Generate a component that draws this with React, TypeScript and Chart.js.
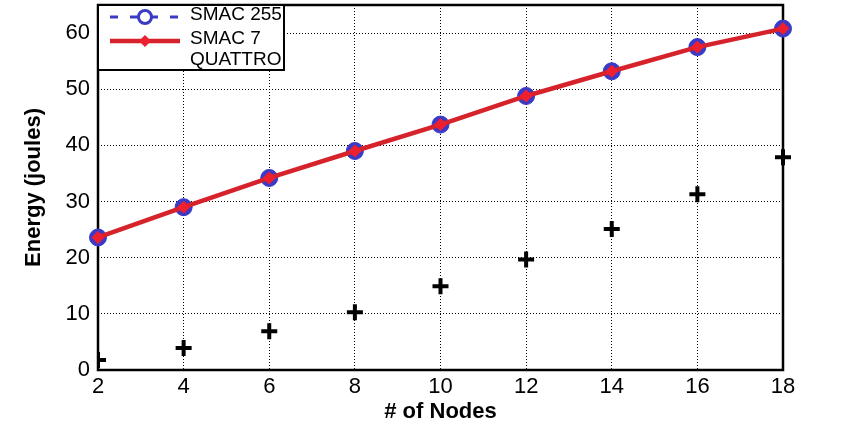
import React, { useEffect, useRef } from 'react';
import { Chart, registerables } from 'chart.js';

Chart.register(...registerables);

// ---- data ----
const nodes = [2, 4, 6, 8, 10, 12, 14, 16, 18];
const smac255 = [23.6, 29.0, 34.2, 39.0, 43.7, 48.8, 53.2, 57.5, 60.8];
const smac7Quattro = [23.6, 29.0, 34.2, 39.0, 43.7, 48.8, 53.2, 57.5, 60.8];
const thirdSeries = [1.8, 3.9, 6.9, 10.3, 14.9, 19.7, 25.1, 31.3, 37.9];
const seriesLabels = ['SMAC 255', 'SMAC 7 QUATTRO', 'Other'];
const xTitle = '# of Nodes';
const yTitle = 'Energy (joules)';

const FONT = "'Liberation Sans', Arial, Helvetica, sans-serif";
const RED = '#d6232b';
const BLUE = '#3a3ac6';

const framePlugin = {
  id: 'frame',
  beforeDatasetsDraw(chart: any) {
    const { ctx, chartArea } = chart;
    ctx.save();
    ctx.strokeStyle = '#000';
    ctx.lineWidth = 2.5;
    ctx.setLineDash([]);
    ctx.strokeRect(chartArea.left, chartArea.top, chartArea.right - chartArea.left, chartArea.bottom - chartArea.top);
    ctx.restore();
  },
};

function wrap(ctx: CanvasRenderingContext2D, text: string, maxW: number) {
  const words = text.split(' ');
  const lines: string[] = [];
  let cur = '';
  for (const w of words) {
    const test = cur ? cur + ' ' + w : w;
    if (cur && ctx.measureText(test).width > maxW) {
      lines.push(cur);
      cur = w;
    } else cur = test;
  }
  if (cur) lines.push(cur);
  return lines;
}

const legendPlugin = {
  id: 'boxLegend',
  afterDraw(chart: any) {
    const { ctx, chartArea } = chart;
    const x0 = chartArea.left;
    const y0 = chartArea.top;
    const w = 186;
    const h = 65;
    ctx.save();
    ctx.fillStyle = '#fff';
    ctx.fillRect(x0, y0, w, h);
    ctx.beginPath();
    ctx.rect(x0, y0, w, h);
    ctx.clip();
    ctx.font = `19px ${FONT}`;
    ctx.fillStyle = '#000';
    ctx.textBaseline = 'alphabetic';
    const textX = x0 + 92;
    const sx0 = x0 + 12;
    const sx1 = x0 + 82;
    const mx = (sx0 + sx1) / 2;
    let baseline = y0 + 15;
    const ds = chart.data.datasets;
    for (let i = 0; i < 2; i++) {
      const d = ds[i];
      const lines = wrap(ctx, d.label, 105);
      const ly = baseline - 3;
      ctx.save();
      ctx.strokeStyle = d.borderColor;
      ctx.lineWidth = d.borderWidth;
      ctx.setLineDash(d.borderDash || []);
      ctx.beginPath();
      ctx.moveTo(sx0, ly);
      ctx.lineTo(sx1, ly);
      ctx.stroke();
      ctx.setLineDash([]);
      if (i === 0) {
        ctx.fillStyle = '#fff';
        ctx.strokeStyle = d.pointBorderColor;
        ctx.lineWidth = 3;
        ctx.beginPath();
        ctx.arc(mx, ly, 6.5, 0, Math.PI * 2);
        ctx.fill();
        ctx.stroke();
      } else {
        ctx.fillStyle = d.pointBackgroundColor;
        ctx.beginPath();
        ctx.moveTo(mx, ly - 6);
        ctx.lineTo(mx + 6, ly);
        ctx.lineTo(mx, ly + 6);
        ctx.lineTo(mx - 6, ly);
        ctx.closePath();
        ctx.fill();
      }
      ctx.restore();
      for (const line of lines) {
        ctx.fillText(line, textX, baseline);
        baseline += 21;
      }
      baseline += 3;
    }
    ctx.restore();
    ctx.save();
    ctx.strokeStyle = '#000';
    ctx.lineWidth = 2;
    ctx.strokeRect(x0, y0, w, h);
    ctx.restore();
  },
};

export default function App() {
  const ref = useRef<HTMLCanvasElement | null>(null);
  useEffect(() => {
    document.body.style.margin = '0';
    const canvas = ref.current!;
    const mk = (arr: number[]) => nodes.map((x, i) => ({ x, y: arr[i] }));
    const chart = new Chart(canvas, {
      type: 'line',
      data: {
        datasets: [
          {
            label: seriesLabels[0],
            data: mk(smac255),
            borderColor: BLUE,
            borderWidth: 3,
            borderDash: [8, 12],
            pointStyle: 'circle',
            pointRadius: 8.5,
            pointBackgroundColor: BLUE,
            pointBorderColor: BLUE,
            pointBorderWidth: 1,
            order: 1,
            clip: false,
          } as any,
          {
            label: seriesLabels[1],
            data: mk(smac7Quattro),
            borderColor: RED,
            borderWidth: 4.5,
            pointStyle: 'rectRot',
            pointRadius: 6,
            pointBackgroundColor: '#ee2030',
            pointBorderColor: '#ee2030',
            pointBorderWidth: 1,
            order: 0,
            clip: false,
          } as any,
          {
            label: seriesLabels[2],
            data: mk(thirdSeries),
            showLine: false,
            borderColor: '#000',
            pointStyle: 'cross',
            pointRadius: 8,
            pointBorderWidth: 4,
            pointBorderColor: '#000',
            order: 2,
            clip: { left: 0, right: false, top: false, bottom: false },
          } as any,
        ],
      },
      options: {
        responsive: false,
        animation: false,
        events: [],
        layout: { autoPadding: false, padding: { top: 5, right: 70, left: 0, bottom: 0 } },
        plugins: {
          legend: { display: false },
          tooltip: { enabled: false },
        },
        scales: {
          x: {
            type: 'linear',
            min: 2,
            max: 18,
            afterFit: (s: any) => { s.height = 78; s.paddingLeft = 0; s.paddingRight = 0; },
            ticks: {
              stepSize: 2,
              color: '#000',
              padding: 4,
              font: { family: FONT, size: 22 },
            },
            grid: { color: '#000', lineWidth: 1, drawTicks: false },
            border: { display: false, dash: [1, 2] },
            title: {
              display: true,
              text: xTitle,
              color: '#000',
              font: { family: FONT, size: 22, weight: 'bold' },
              padding: { top: 0, bottom: 23 },
            },
          },
          y: {
            type: 'linear',
            min: 0,
            max: 65,
            afterFit: (s: any) => { s.width = 98; s.paddingTop = 0; s.paddingBottom = 0; },
            ticks: {
              stepSize: 10,
              includeBounds: false,
              color: '#000',
              padding: 8,
              font: { family: FONT, size: 22 },
            },
            grid: { color: '#000', lineWidth: 1, drawTicks: false },
            border: { display: false, dash: [1, 2] },
            title: {
              display: true,
              text: yTitle,
              color: '#000',
              font: { family: FONT, size: 22, weight: 'bold' },
              padding: { top: 21, bottom: 0 },
            },
          },
        },
      } as any,
      plugins: [framePlugin, legendPlugin],
    });
    return () => chart.destroy();
  }, []);
  return (
    <div style={{ width: 853, height: 448, background: '#fff' }}>
      <canvas ref={ref} width={853} height={448} />
    </div>
  );
}
